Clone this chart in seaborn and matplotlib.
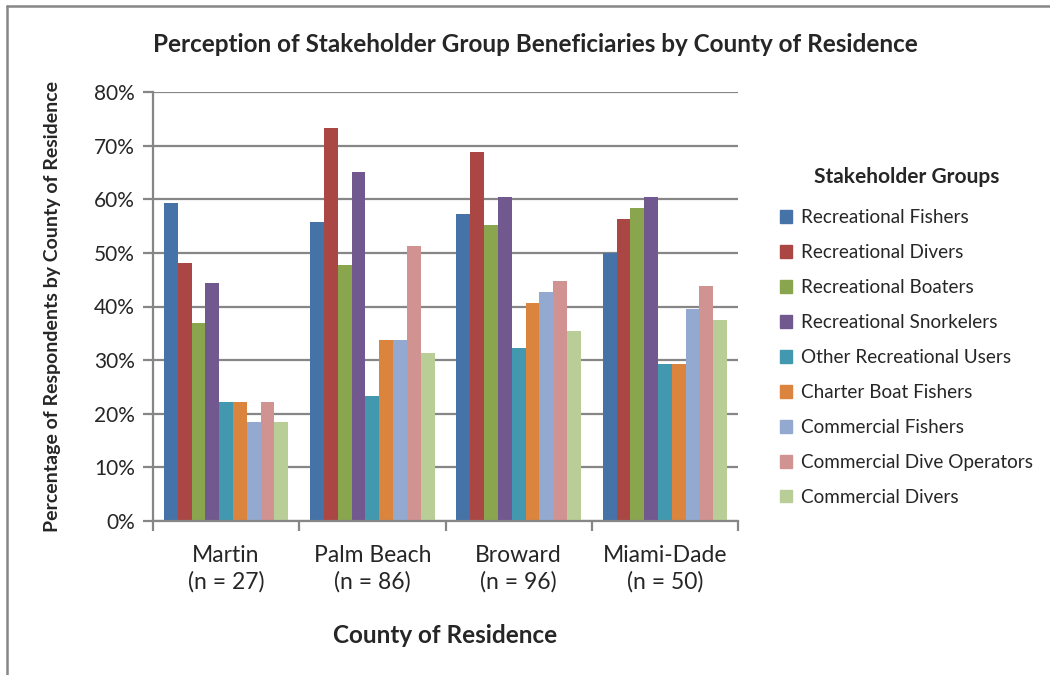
import matplotlib

matplotlib.use("Agg")
import matplotlib.pyplot as plt
import numpy as np
import pandas as pd
import seaborn as sns
from matplotlib.lines import Line2D
from matplotlib.ticker import FixedLocator, PercentFormatter

counties = ["Martin\n(n = 27)", "Palm Beach\n(n = 86)", "Broward\n(n = 96)", "Miami-Dade\n(n = 50)"]
groups = [
    "Recreational Fishers",
    "Recreational Divers",
    "Recreational Boaters",
    "Recreational Snorkelers",
    "Other Recreational Users",
    "Charter Boat Fishers",
    "Commercial Fishers",
    "Commercial Dive Operators",
    "Commercial Divers",
]
martin = [59.3, 48.1, 37.0, 44.4, 22.2, 22.2, 18.5, 22.2, 18.5]
palm_beach = [55.8, 73.3, 47.7, 65.1, 23.3, 33.7, 33.7, 51.2, 31.4]
broward = [57.3, 68.8, 55.2, 60.4, 32.3, 40.6, 42.7, 44.8, 35.4]
miami_dade = [50.0, 56.3, 58.3, 60.4, 29.2, 29.2, 39.6, 43.8, 37.5]
colors = ["#4572A7", "#AA4643", "#89A54E", "#71588F", "#4198AF",
          "#DB843D", "#93A9CF", "#D19392", "#B9CD96"]

rows = []
for county, vals in zip(counties, [martin, palm_beach, broward, miami_dade]):
    for g, v in zip(groups, vals):
        rows.append({"county": county, "group": g, "pct": v})
df = pd.DataFrame(rows)

sns.set_style("white")
plt.rcParams["font.family"] = ["Lato", "DejaVu Sans"]
grid_c = "#868686"

fig = plt.figure(figsize=(10.5, 6.75), dpi=100)
ax = fig.add_axes([153 / 1050, 1 - 521 / 675, 585 / 1050, 429 / 675])

sns.barplot(data=df, x="county", y="pct", hue="group", hue_order=groups,
            palette=colors, width=0.85, gap=0, linewidth=0, saturation=1,
            legend=False, ax=ax)

ax.set_ylim(0, 80)
ax.set_xlim(-0.5, 3.5)
ax.set_yticks(np.arange(0, 81, 10))
ax.yaxis.set_major_formatter(PercentFormatter(decimals=0))
ax.yaxis.grid(True, color=grid_c, linewidth=1.6)
ax.set_axisbelow(True)
for s in ["top", "right"]:
    ax.spines[s].set_visible(False)
for s in ["left", "bottom"]:
    ax.spines[s].set_color(grid_c)
    ax.spines[s].set_linewidth(1.6)

ax.tick_params(axis="y", which="major", left=True, length=7, width=1.6,
               color=grid_c, labelsize=15, pad=6)
ax.tick_params(axis="x", which="major", bottom=False, labelsize=16.5, pad=14)
for lbl in ax.get_xticklabels():
    lbl.set_linespacing(1.3)
ax.xaxis.set_minor_locator(FixedLocator([-0.5, 0.5, 1.5, 2.5, 3.5]))
ax.tick_params(axis="x", which="minor", bottom=True, length=7, width=1.6, color=grid_c)

ax.set_xlabel("County of Residence", fontsize=17.5, fontweight="bold", labelpad=22)
ax.set_ylabel("Percentage of Respondents by County of Residence", fontsize=14,
              fontweight="bold", labelpad=24)
fig.text(535 / 1050, 1 - 44 / 675,
         "Perception of Stakeholder Group Beneficiaries by County of Residence",
         ha="center", va="center", fontsize=17.5, fontweight="bold")

handles = [plt.Rectangle((0, 0), 1, 1, color=c) for c in colors]
leg = fig.legend(handles, groups, loc="upper left",
                 bbox_to_anchor=(763 / 1050, 1 - 150 / 675), frameon=False,
                 title="Stakeholder Groups", fontsize=13.6, handlelength=0.65,
                 handleheight=0.65, handletextpad=0.45, labelspacing=0.95)
leg.get_title().set_fontweight("bold")
leg.get_title().set_fontsize(15)
leg._legend_box.sep = 16

fig.add_artist(Line2D([7 / 1050, 7 / 1050], [0, 1 - 6 / 675], color=grid_c,
                      linewidth=1.8, transform=fig.transFigure))
fig.add_artist(Line2D([7 / 1050, 1], [1 - 6 / 675, 1 - 6 / 675], color=grid_c,
                      linewidth=1.8, transform=fig.transFigure))

fig.savefig("out.png", dpi=100)
